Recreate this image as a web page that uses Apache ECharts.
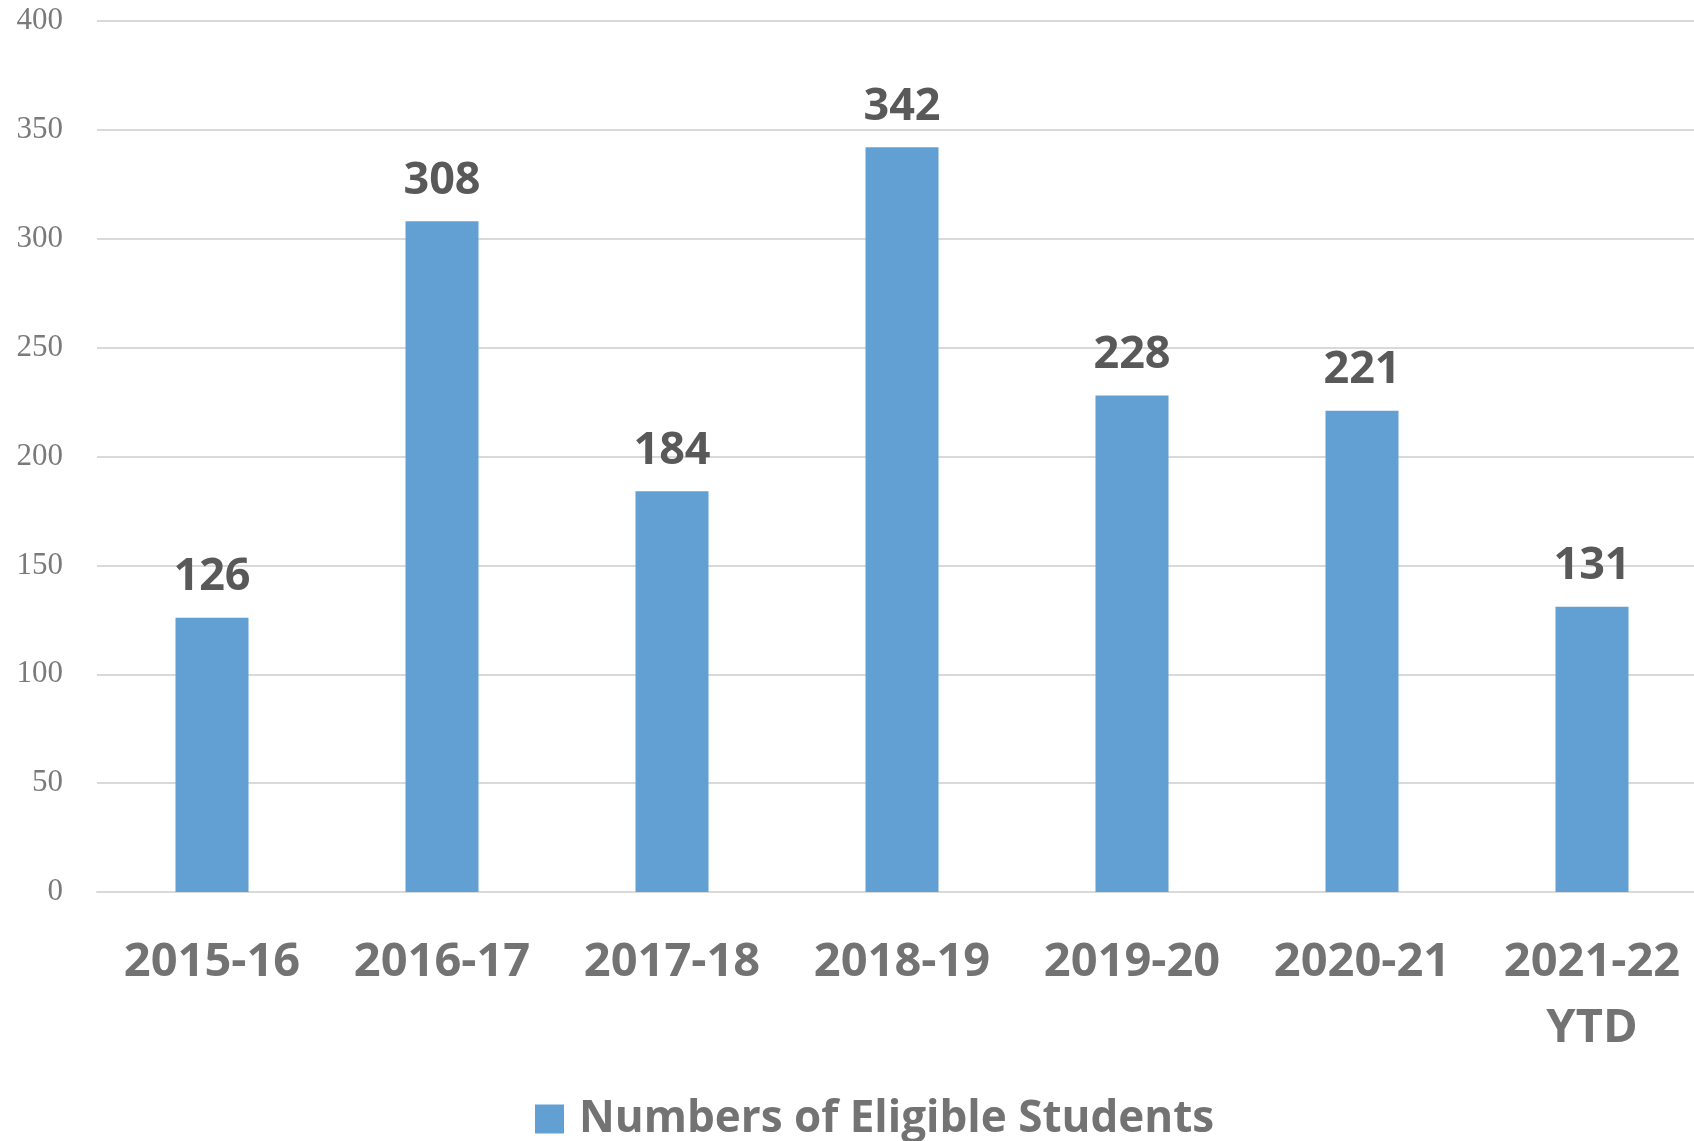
<!DOCTYPE html>
<html><head><meta charset="utf-8">
<script src="https://cdn.jsdelivr.net/npm/echarts@6/dist/echarts.min.js"></script>
<style>html,body{margin:0;padding:0;background:#fff}#c{width:1694px;height:1141px}</style>
</head><body><div id="c"></div>
<script>
const categories = ['2015-16','2016-17','2017-18','2018-19','2019-20','2020-21','2021-22\nYTD'];
const values = [126, 308, 184, 342, 228, 221, 131];
const seriesName = 'Numbers of Eligible Students';
const yTicks = {min: 0, max: 400, interval: 50};

const chart = echarts.init(document.getElementById('c'));
chart.setOption({
  backgroundColor: '#ffffff',
  animation: false,
  grid: {left: 97, top: 21, right: -13, height: 871, containLabel: false, outerBoundsMode: 'none'},
  legend: {
    data: [seriesName],
    left: 530, top: 1092,
    icon: 'rect', itemWidth: 29, itemHeight: 29,
    textStyle: {fontFamily: 'Open Sans', fontWeight: 'bold', fontSize: 44, color: '#737373', padding: [0,0,0,10]}
  },
  xAxis: {
    type: 'category', data: categories,
    axisLine: {show: true, lineStyle: {color: '#d9d9d9', width: 2}},
    axisTick: {show: false},
    axisLabel: {margin: 38, fontFamily: 'Open Sans', fontWeight: 'bold', fontSize: 47, color: '#737373', lineHeight: 66, interval: 0}
  },
  yAxis: {
    type: 'value', min: yTicks.min, max: yTicks.max, interval: yTicks.interval,
    axisLine: {show: false}, axisTick: {show: false},
    splitLine: {lineStyle: {color: '#d9d9d9', width: 2}},
    axisLabel: {margin: 34, fontFamily: 'Liberation Serif', fontSize: 31, color: '#7a7a7a'}
  },
  series: [{
    name: seriesName, type: 'bar', data: values, barWidth: 73,
    itemStyle: {color: '#629fd3'},
    label: {show: true, position: 'top', distance: 18, fontFamily: 'Open Sans', fontWeight: 'bold', fontSize: 45, color: '#595959'}
  }]
});
</script></body></html>
